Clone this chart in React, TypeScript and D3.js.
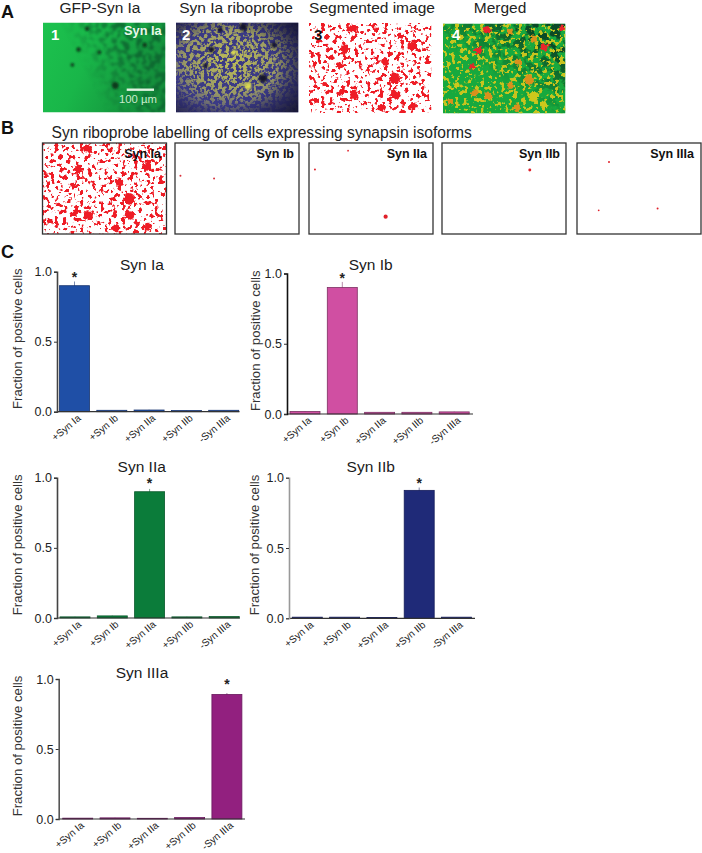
import * as d3 from "d3";
import { useEffect, useRef } from "react";

const categories = ["+Syn Ia", "+Syn Ib", "+Syn IIa", "+Syn IIb", "-Syn IIIa"];
const yTicks = [0, 0.5, 1];

const synIa = [0.9, 0.01, 0.012, 0.008, 0.01];
const synIb = [0.018, 0.9, 0.012, 0.012, 0.015];
const synIIa = [0.008, 0.015, 0.9, 0.008, 0.01];
const synIIb = [0.008, 0.008, 0.006, 0.91, 0.008];
const synIIIa = [0.006, 0.008, 0.005, 0.01, 0.89];

const errIa = [0.03, 0.001, 0.002, 0.001, 0.001];
const errIb = [0.002, 0.04, 0.001, 0.001, 0.002];
const errIIa = [0.001, 0.002, 0.02, 0.001, 0.001];
const errIIb = [0.001, 0.001, 0.001, 0.02, 0.001];
const errIIIa = [0.001, 0.001, 0.001, 0.001, 0.01];

// fields of view, all in percent of the image: [x, y, radius]
const segmentedBlobs = [
  [36, 6, 3.2], [55, 7, 2.2], [74, 15, 2.2], [29, 29, 3.8], [84, 26, 3.6],
  [3, 35, 2], [25, 47, 2.4], [62, 43, 3], [70, 62, 4.4], [13, 68, 1.8],
  [26, 77, 2.6], [37, 79, 3.8], [70, 79, 3.8], [59, 93, 3], [6, 86, 2.8],
  [85, 92, 3.2], [55, 67, 1.6], [77, 89, 2.2], [17, 4, 1.5], [86, 9, 1.5],
];
const gfpHoles = [[36, 7, 1.8], [29, 30, 1.8], [24, 47, 1.5], [59, 70, 2.8], [83, 25, 2], [46, 33, 1.6]];
const probeHoles = [[29, 30, 2.4], [24, 48, 2], [36, 8, 2], [55, 5, 3], [71, 62, 3.4], [80, 25, 2.2]];
const probeBright = [[47, 34, 2], [59, 71, 2.6]];
const mergedRed = [[36, 7, 3], [29, 30, 3], [24, 48, 2.2], [83, 26, 3.2], [97, 5, 2]];
const mergedOrange = [
  [55, 9, 2.6], [61, 43, 2.8], [70, 63, 4], [55, 69, 2.8], [26, 77, 2.8],
  [37, 80, 3.2], [74, 17, 2.6], [60, 93, 3], [6, 87, 2.8],
];
const mergedYellow = [[74, 81, 4.5], [11, 69, 2.6], [82, 90, 2.6]];
const dotsIb = [[4.4, 36, 0.8], [31.5, 39, 0.8]];
const dotsIIa = [[31.5, 8.5, 0.7], [4.8, 29, 0.8], [61.8, 81, 1.7]];
const dotsIIb = [[70.8, 29.7, 1.2], [82, 17.6, 0.4]];
const dotsIIIa = [[25.8, 21, 0.8], [17.5, 74, 0.7], [65, 72, 0.8]];

const FONT = "'Liberation Sans', Arial, sans-serif";

type Blob = number[];

function Circles({ blobs, w, h, fill, filter }: { blobs: Blob[]; w: number; h: number; fill: string; filter?: string }) {
  const x = d3.scaleLinear().domain([0, 100]).range([0, w]);
  const y = d3.scaleLinear().domain([0, 100]).range([0, h]);
  return (
    <g filter={filter} fill={fill}>
      {blobs.map((b, i) => <circle key={i} cx={x(b[0])} cy={y(b[1])} r={x(b[2])} />)}
    </g>
  );
}

function Segmented({ w, h }: { w: number; h: number }) {
  return (
    <>
      <rect width={w} height={h} fill="#ee1c25" filter="url(#speckle)" />
      <Circles blobs={segmentedBlobs} w={w} h={h} fill="#ee1c25" filter="url(#rough)" />
    </>
  );
}

function Chart({ title, values, errors, color, edge, axisColor, left, end, first, top, bottom, labelX, titleX, titleY }: any) {
  const axisRef = useRef<SVGGElement>(null);
  const xAxisRef = useRef<SVGGElement>(null);
  const step = 37.3;
  const x = d3.scaleBand().domain(categories).range([first, first + 4 * step + 30]).paddingInner(7.3 / step);
  const y = d3.scaleLinear().domain([0, 1]).range([bottom, top]);

  useEffect(() => {
    const g = d3.select(axisRef.current);
    g.selectAll("*").remove();
    g.call(d3.axisLeft(y).tickValues(yTicks).tickFormat(d3.format(".1f")).tickSize(3).tickPadding(2) as any);
    g.select(".domain").attr("stroke", axisColor).attr("stroke-width", 1.6);
    g.selectAll(".tick line").attr("stroke", "#333").attr("stroke-width", 1);
    g.selectAll(".tick text").attr("fill", "#222").attr("font-size", 12.5).attr("font-family", FONT);

    const gx = d3.select(xAxisRef.current);
    gx.selectAll("*").remove();
    gx.call(d3.axisBottom(x).tickSize(0) as any);
    gx.select(".domain").remove();
    gx.selectAll(".tick text")
      .attr("fill", "#222")
      .attr("font-size", 10)
      .attr("font-family", FONT)
      .attr("text-anchor", "end")
      .attr("dy", 0)
      .attr("y", 0)
      .attr("transform", "translate(7,7.5) rotate(-40)");
  }, []);

  const peak = values.indexOf(d3.max(values));
  return (
    <g>
      <text x={titleX} y={titleY} textAnchor="middle" fontSize={15.5} fontFamily={FONT} fill="#1a1a1a">{title}</text>
      <text
        transform={`translate(${labelX},${(top + bottom) / 2 - 3}) rotate(-90)`}
        textAnchor="middle"
        fontSize={13.2}
        fontFamily={FONT}
        fill="#333"
      >Fraction of positive cells</text>
      {values.map((v: number, i: number) => (
        <g key={categories[i]}>
          <line
            x1={x(categories[i])! + x.bandwidth() / 2}
            x2={x(categories[i])! + x.bandwidth() / 2}
            y1={y(v - errors[i])}
            y2={y(v + errors[i])}
            stroke={edge}
            strokeOpacity={0.7}
            strokeWidth={0.8}
          />
          <rect
            x={x(categories[i])}
            y={y(v)}
            width={x.bandwidth()}
            height={bottom - y(v)}
            fill={color}
            stroke={edge}
            strokeWidth={0.8}
          />
        </g>
      ))}
      <text
        x={x(categories[peak])! + x.bandwidth() / 2}
        y={y(0.98) + 7}
        textAnchor="middle"
        fontSize={14}
        fontWeight="bold"
        fontFamily={FONT}
        fill="#222"
      >*</text>
      <line x1={left} x2={end} y1={bottom} y2={bottom} stroke="#333" strokeWidth={1.2} />
      <g ref={axisRef} transform={`translate(${left},0)`} />
      <g ref={xAxisRef} transform={`translate(0,${bottom})`} />
    </g>
  );
}

function Field({ x, y, w, h, children }: any) {
  return <svg x={x} y={y} width={w} height={h}>{children}</svg>;
}

function BoxLabel({ x, children }: any) {
  return <text x={x} y={158} textAnchor="end" fontSize={12.5} fontWeight="bold" fontFamily={FONT} fill="#111">{children}</text>;
}

export default function App() {
  const imgW = 122.5;
  const imgH = 90;
  const boxW = 124;
  const boxH = 91;
  return (
    <svg width={702} height={853} style={{ position: "absolute", left: 0, top: 0 }}>
      <defs>
        <filter id="speckle" x="0" y="0" width="1" height="1" colorInterpolationFilters="sRGB">
          <feTurbulence type="fractalNoise" baseFrequency="0.24" numOctaves={2} seed={4} />
          <feColorMatrix type="matrix" values="0 0 0 0 0  0 0 0 0 0  0 0 0 0 0  16 0 0 0 -8.9" result="t" />
          <feComposite in="SourceGraphic" in2="t" operator="in" />
          <feGaussianBlur stdDeviation="0.25" />
        </filter>
        <filter id="speckleDense" x="0" y="0" width="1" height="1" colorInterpolationFilters="sRGB">
          <feTurbulence type="fractalNoise" baseFrequency="0.28" numOctaves={2} seed={9} />
          <feColorMatrix type="matrix" values="0 0 0 0 0  0 0 0 0 0  0 0 0 0 0  9 0 0 0 -4" result="t" />
          <feComposite in="SourceGraphic" in2="t" operator="in" />
          <feGaussianBlur stdDeviation="0.4" />
        </filter>
        <filter id="blotch" x="0" y="0" width="1" height="1" colorInterpolationFilters="sRGB">
          <feTurbulence type="fractalNoise" baseFrequency="0.12" numOctaves={3} seed={12} />
          <feColorMatrix type="matrix" values="0 0 0 0 0  0 0 0 0 0  0 0 0 0 0  8 0 0 0 -3.6" result="t" />
          <feComposite in="SourceGraphic" in2="t" operator="in" />
          <feGaussianBlur stdDeviation="0.6" />
        </filter>
        <filter id="blotchSoft" x="0" y="0" width="1" height="1" colorInterpolationFilters="sRGB">
          <feTurbulence type="fractalNoise" baseFrequency="0.16" numOctaves={3} seed={21} />
          <feColorMatrix type="matrix" values="0 0 0 0 0  0 0 0 0 0  0 0 0 0 0  6 0 0 0 -2.7" result="t" />
          <feComposite in="SourceGraphic" in2="t" operator="in" />
          <feGaussianBlur stdDeviation="1.3" />
        </filter>
        <filter id="rough" x="-20%" y="-20%" width="140%" height="140%">
          <feTurbulence type="fractalNoise" baseFrequency="0.3" numOctaves={2} seed={3} />
          <feDisplacementMap in="SourceGraphic" scale="6" xChannelSelector="R" yChannelSelector="G" />
        </filter>
        <filter id="soft" x="-50%" y="-50%" width="200%" height="200%">
          <feGaussianBlur stdDeviation="1" />
        </filter>
        <linearGradient id="gfpBase" x1="0" y1="0" x2="1" y2="0.35">
          <stop offset="0" stopColor="#1cc24e" />
          <stop offset="0.45" stopColor="#19b649" />
          <stop offset="1" stopColor="#14903c" />
        </linearGradient>
        <linearGradient id="rightFade" x1="0.3" y1="0.45" x2="0.7" y2="0.3">
          <stop offset="0" stopColor="#000" />
          <stop offset="1" stopColor="#ccc" />
        </linearGradient>
        <linearGradient id="topRight" x1="0.4" y1="0.6" x2="0.8" y2="0.15">
          <stop offset="0" stopColor="#000" />
          <stop offset="1" stopColor="#fff" />
        </linearGradient>
        <radialGradient id="probeCentre" cx="0.45" cy="0.42" r="0.62">
          <stop offset="0" stopColor="#fff" />
          <stop offset="0.6" stopColor="#bbb" />
          <stop offset="1" stopColor="#222" />
        </radialGradient>
        <radialGradient id="vignette" cx="0.4" cy="0.5" r="0.75">
          <stop offset="0.55" stopColor="#0a0a20" stopOpacity="0" />
          <stop offset="1" stopColor="#0a0a20" stopOpacity="0.75" />
        </radialGradient>
        <mask id="maskRight" maskContentUnits="objectBoundingBox"><rect width={1} height={1} fill="url(#rightFade)" /></mask>
        <mask id="maskTop" maskContentUnits="objectBoundingBox"><rect width={1} height={1} fill="url(#topRight)" /></mask>
        <mask id="maskProbe" maskContentUnits="objectBoundingBox"><rect width={1} height={1} fill="url(#probeCentre)" /></mask>
      </defs>

      <g fontFamily={FONT}>
        <text x={1} y={18} fontSize={18} fontWeight="bold" fill="#111">A</text>
        <text x={1} y={134} fontSize={18} fontWeight="bold" fill="#111">B</text>
        <text x={1} y={258} fontSize={18} fontWeight="bold" fill="#111">C</text>

        <g fontSize={15.5} fill="#222" textAnchor="middle">
          <text x={100} y={13}>GFP-Syn Ia</text>
          <text x={236} y={13}>Syn Ia riboprobe</text>
          <text x={372} y={13}>Segmented image</text>
          <text x={500} y={13}>Merged</text>
        </g>
        <text x={51.5} y={138} fontSize={15.6} fill="#222">Syn riboprobe labelling of cells expressing synapsin isoforms</text>
      </g>

      <Field x={43} y={22.5} w={imgW} h={imgH}>
        <rect width={imgW} height={imgH} fill="url(#gfpBase)" />
        <g mask="url(#maskRight)">
          <rect width={imgW} height={imgH} fill="#0c5f2e" filter="url(#blotchSoft)" />
        </g>
        <Circles blobs={gfpHoles} w={imgW} h={imgH} fill="#0b3a1e" filter="url(#soft)" />
      </Field>

      <Field x={176} y={22.5} w={imgW} h={imgH}>
        <rect width={imgW} height={imgH} fill="#3b3a85" />
        <g mask="url(#maskProbe)">
          <rect width={imgW} height={imgH} fill="#bdbd58" filter="url(#speckleDense)" />
        </g>
        <Circles blobs={probeBright} w={imgW} h={imgH} fill="#dcdc50" filter="url(#soft)" />
        <Circles blobs={probeHoles} w={imgW} h={imgH} fill="#15152e" filter="url(#soft)" />
        <rect width={imgW} height={imgH} fill="url(#vignette)" />
      </Field>

      <Field x={309} y={23} w={imgW} h={imgH}>
        <Segmented w={imgW} h={imgH} />
      </Field>

      <Field x={443} y={23.5} w={imgW} h={imgH}>
        <rect width={imgW} height={imgH} fill="#17a93e" />
        <g mask="url(#maskTop)">
          <rect width={imgW} height={imgH} fill="#0b4a26" filter="url(#blotch)" />
        </g>
        <rect width={imgW} height={imgH} fill="#c8c41e" filter="url(#speckle)" />
        <Circles blobs={mergedYellow} w={imgW} h={imgH} fill="#ccc81c" filter="url(#rough)" />
        <Circles blobs={mergedOrange} w={imgW} h={imgH} fill="#d9901e" filter="url(#rough)" />
        <Circles blobs={mergedRed} w={imgW} h={imgH} fill="#e8262a" filter="url(#rough)" />
      </Field>

      <g fontFamily={FONT} fontWeight="bold" fontSize={15}>
        <text x={51} y={40} fill="#fff">1</text>
        <text x={182} y={40} fill="#fff">2</text>
        <text x={314} y={40} fill="#111">3</text>
        <text x={452} y={40} fill="#fff">4</text>
        <text x={124} y={35} fontSize={12.8} fill="#e8f8ea">Syn Ia</text>
      </g>
      <line x1={126.7} x2={154} y1={89.7} y2={89.7} stroke="#dff3e0" strokeWidth={2.4} />
      <text x={138} y={103} textAnchor="middle" fontSize={11.3} fontFamily={FONT} fill="#c8eccc">100 µm</text>

      <Field x={42.5} y={143} w={boxW} h={boxH}><Segmented w={boxW} h={boxH} /></Field>
      <Field x={175} y={143} w={boxW} h={boxH}><Circles blobs={dotsIb} w={boxW} h={boxH} fill="#d8303a" /></Field>
      <Field x={309} y={143} w={boxW} h={boxH}><Circles blobs={dotsIIa} w={boxW} h={boxH} fill="#e0202a" /></Field>
      <Field x={442} y={143} w={boxW} h={boxH}><Circles blobs={dotsIIb} w={boxW} h={boxH} fill="#e0202a" /></Field>
      <Field x={577} y={143} w={boxW} h={boxH}><Circles blobs={dotsIIIa} w={boxW} h={boxH} fill="#e0202a" /></Field>
      {[42.5, 175, 309, 442, 577].map((bx) => (
        <rect key={bx} x={bx} y={143} width={boxW} height={boxH} fill="none" stroke="#333" strokeWidth={1.3} />
      ))}
      <BoxLabel x={161}>Syn Ia</BoxLabel>
      <BoxLabel x={294}>Syn Ib</BoxLabel>
      <BoxLabel x={427}>Syn IIa</BoxLabel>
      <BoxLabel x={560}>Syn IIb</BoxLabel>
      <BoxLabel x={694}>Syn IIIa</BoxLabel>

      <Chart title="Syn Ia" values={synIa} errors={errIa} color="#1f4fa6" edge="#16336f" axisColor="#444" left={57} end={239.5} first={59.5} top={271.7} bottom={411.7} labelX={22} titleX={142} titleY={270} />
      <Chart title="Syn Ib" values={synIb} errors={errIb} color="#d04fa2" edge="#7c2f62" axisColor="#111" left={287} end={473} first={290} top={273.5} bottom={414} labelX={260} titleX={370.7} titleY={270} />
      <Chart title="Syn IIa" values={synIIa} errors={errIIa} color="#0b7c3a" edge="#0a5a2c" axisColor="#444" left={57} end={240} first={60} top={477.7} bottom={618} labelX={22} titleX={141.7} titleY={472} />
      <Chart title="Syn IIb" values={synIIb} errors={errIIb} color="#1f2a78" edge="#151d5a" axisColor="#999" left={289} end={475} first={292.3} top={477.7} bottom={618.3} labelX={259} titleX={370.7} titleY={472} />
      <Chart title="Syn IIIa" values={synIIIa} errors={errIIIa} color="#92207f" edge="#6a1a5e" axisColor="#555" left={58.7} end={245} first={62.7} top={679} bottom={819} labelX={22} titleX={142} titleY={678} />
    </svg>
  );
}
